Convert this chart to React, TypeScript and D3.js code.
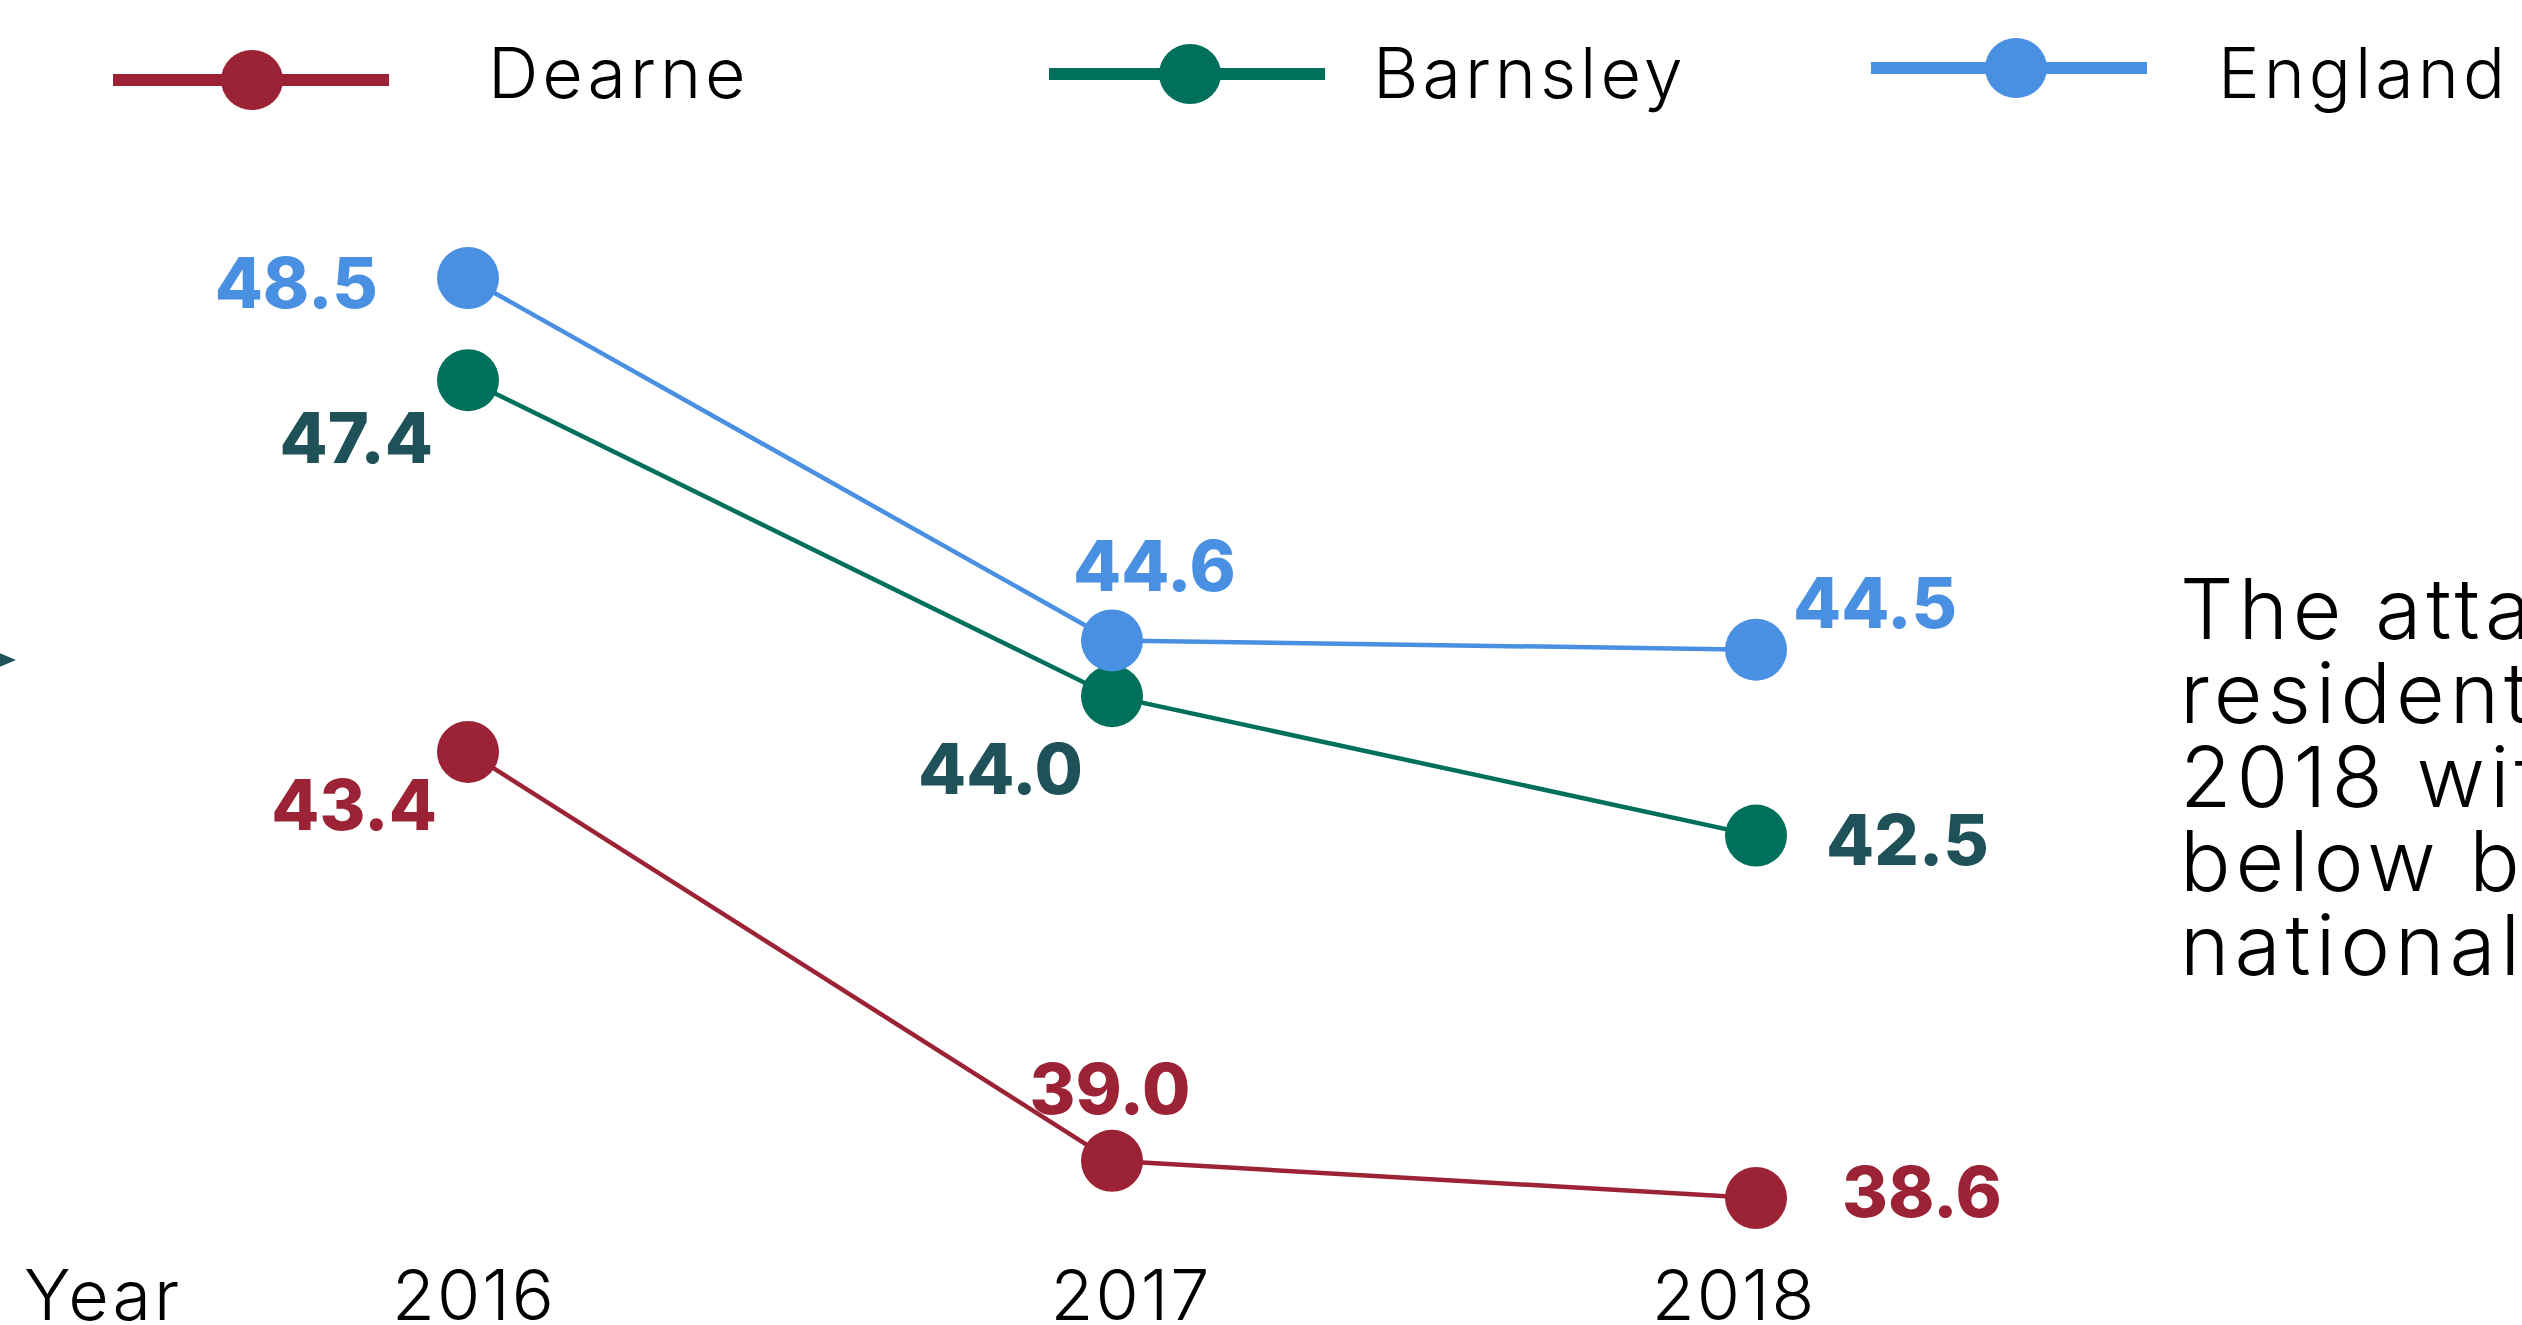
import React, { useEffect } from "react";
import * as d3 from "d3";

const years = ["2016", "2017", "2018"];
const seriesNames = ["Dearne", "Barnsley", "England"];
const dearne = [43.4, 39.0, 38.6];
const barnsley = [47.4, 44.0, 42.5];
const england = [48.5, 44.6, 44.5];
const noteLines = ["The attainment", "residents", "2018 with", "below both", "national"];

const W = 2522;
const H = 1325;

const lineColors = { Dearne: "#9b2335", Barnsley: "#006f5c", England: "#4a90e2" };
const labelColors = { Dearne: "#9b2335", Barnsley: "#1f5159", England: "#4a90e2" };

// label offsets relative to each point: [dx, dy, anchor]
const labelOffsets = {
  Dearne: [[-31, 78, "end"], [-2, -47, "middle"], [86, 19, "start"]],
  Barnsley: [[-35, 83, "end"], [-29, 98, "end"], [70, 29, "start"]],
  England: [[-90, 30, "end"], [-39, -49, "start"], [37, -22, "start"]],
};

const legendLayout = [
  { name: "Dearne", x0: 113, x1: 389, cx: 252, y: 80, tx: 488 },
  { name: "Barnsley", x0: 1049, x1: 1325, cx: 1190, y: 74, tx: 1373 },
  { name: "England", x0: 1871, x1: 2147, cx: 2016, y: 68, tx: 2218 },
];

const yearLabelDx = [6, 19, -22];

const LIGHT = "'Inter', 'Open Sans', 'Lato', sans-serif";
const BOLD = "'Inter', 'Open Sans', sans-serif";

export default function App() {
  useEffect(() => {
    document.body.style.margin = "0";
  }, []);

  const x = d3.scalePoint<string>().domain(years).range([468, 1756]);
  const y = d3.scaleLinear().domain([38.6, 48.5]).range([1198, 278]);

  const data: Record<string, number[]> = {
    Dearne: dearne,
    Barnsley: barnsley,
    England: england,
  };

  const line = d3
    .line<number>()
    .x((_, i) => x(years[i]) as number)
    .y((d) => y(d));

  const drawOrder = seriesNames;

  return (
    <svg
      width={W}
      height={H}
      style={{ display: "block", position: "absolute", left: 0, top: 0, background: "#fff" }}
    >
      <rect x={0} y={0} width={W} height={H} fill="#fff" />

      {/* legend */}
      {legendLayout.map((l) => (
        <g key={l.name}>
          <line
            x1={l.x0}
            x2={l.x1}
            y1={l.y}
            y2={l.y}
            stroke={(lineColors as any)[l.name]}
            strokeWidth={12}
          />
          <ellipse cx={l.cx} cy={l.y} rx={31} ry={30} fill={(lineColors as any)[l.name]} />
          <text
            x={l.tx}
            y={98}
            fontFamily={LIGHT}
            fontWeight={300}
            fontSize={70}
            fill="#000"
            letterSpacing={4}
          >
            {l.name}
          </text>
        </g>
      ))}

      {/* arrow at left edge */}
      <path d="M -8 650 L 16 660 L -8 670 Z" fill="#1f5159" />

      {/* lines */}
      {drawOrder.map((name) => (
        <path
          key={name + "-line"}
          d={line(data[name]) as string}
          fill="none"
          stroke={(lineColors as any)[name]}
          strokeWidth={4.5}
        />
      ))}

      {/* points */}
      {drawOrder.map((name) =>
        data[name].map((v, i) => (
          <circle
            key={name + "-pt-" + i}
            cx={x(years[i]) as number}
            cy={y(v)}
            r={31}
            fill={(lineColors as any)[name]}
          />
        ))
      )}

      {/* value labels */}
      {drawOrder.map((name) =>
        data[name].map((v, i) => {
          const [dx, dy, anchor] = (labelOffsets as any)[name][i];
          return (
            <text
              key={name + "-lbl-" + i}
              x={(x(years[i]) as number) + dx}
              y={y(v) + dy}
              textAnchor={anchor}
              fontFamily={BOLD}
              fontWeight={800}
              fontSize={70}
              fill={(labelColors as any)[name]}
            >
              {d3.format(".1f")(v)}
            </text>
          );
        })
      )}

      {/* x axis labels */}
      <text x={24} y={1320} fontFamily={LIGHT} fontWeight={300} fontSize={70} fill="#000" letterSpacing={3}>
        Year
      </text>
      {years.map((yr, i) => (
        <text
          key={"yr-" + yr}
          x={(x(yr) as number) + yearLabelDx[i]}
          y={1320}
          textAnchor="middle"
          fontFamily={LIGHT}
          fontWeight={300}
          fontSize={70}
          fill="#000"
          letterSpacing={2}
        >
          {yr}
        </text>
      ))}

      {/* side note */}
      {noteLines.map((t, i) => (
        <text
          key={"note-" + i}
          x={2180}
          y={639 + i * 84}
          fontFamily={LIGHT}
          fontWeight={300}
          fontSize={84}
          fill="#000"
          letterSpacing={5}
        >
          {t}
        </text>
      ))}
    </svg>
  );
}
